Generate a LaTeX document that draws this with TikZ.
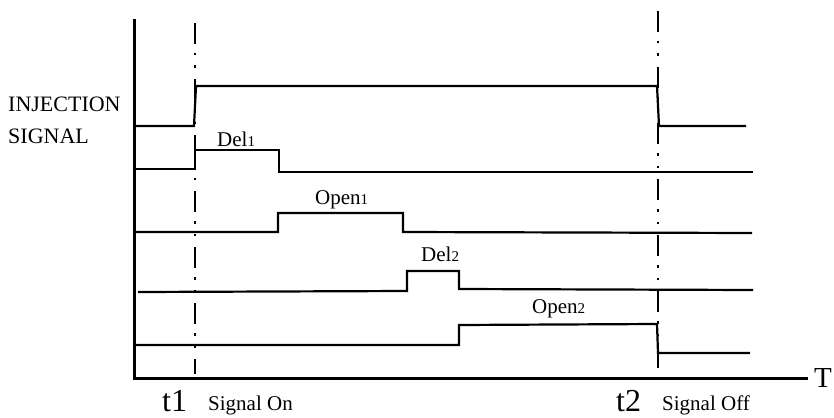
\documentclass[tikz,border=0pt]{standalone}
\usepackage{fontspec}
\setmainfont{Liberation Serif}
\tikzset{
  sigline/.style={line width=2.2pt},
  axisline/.style={line width=3pt},
  tline/.style={line width=2pt,dash pattern=on 21pt off 9pt on 2.5pt off 10pt on 2.5pt off 11pt},
  lbl/.style={font=\fontsize{21}{24}\selectfont,inner sep=0pt,anchor=base west},
  biglbl/.style={font=\fontsize{32}{34}\selectfont,inner sep=0pt,anchor=base west},
}
\newcommand{\idx}[1]{{\fontsize{15}{15}\selectfont #1}}
\begin{document}
\begin{tikzpicture}[x=1pt,y=-1pt]
\useasboundingbox (0,0) rectangle (834,417);
% time axis
\coordinate (O) at (134,378);
\coordinate (top) at (134,19);
\node[font=\fontsize{29}{30}\selectfont,inner sep=0pt,anchor=west] (T) at (814,378) {T};
\draw[axisline] (top) -- (O) -- ([xshift=-6pt]T.west);
% t1 and t2
\coordinate (t1top) at (195,23);
\coordinate (t1bot) at (195,374);
\coordinate (t2top) at (658,11);
\coordinate (t2bot) at (658,374);
\draw[tline] (t1top) -- (t1bot);
\draw[tline] (t2top) -- (t2bot);
% injection signal
\draw[sigline] (134,126) -- (194,126) -- (196,86) -- (657,86) -- (659,126) -- (746,126);
% Del1
\draw[sigline] (134,169) -- (195,169) -- (195,150) -- (279,150) -- (279,172) -- (753,172);
% Open1
\draw[sigline] (134,232) -- (278,232) -- (278,213) -- (403,213) -- (403,232) -- (752,233);
% Del2
\draw[sigline] (138,292) -- (407,291) -- (407,271) -- (459,271) -- (459,289) -- (753,290);
% Open2
\draw[sigline] (134,345) -- (459,345) -- (459,325) -- (657,324) -- (658,353) -- (750,353);
% labels
\node[lbl,font=\fontsize{22}{24}\selectfont] (inj) at (8,111) {INJECTION};
\node[lbl,font=\fontsize{22}{24}\selectfont] (injsig) at (8,143) {SIGNAL};
\node[lbl] (del1) at (217,146) {Del\idx{1}};
\node[lbl] (open1) at (315,204) {Open\idx{1}};
\node[lbl] (del2) at (421,261) {Del\idx{2}};
\node[lbl] (open2) at (532,313) {Open\idx{2}};
\node[biglbl] (t1) at (162,411) {t1};
\node[lbl] (on) at (208,410) {Signal On};
\node[biglbl] (t2) at (616,411) {t2};
\node[lbl] (off) at (662,410) {Signal Off};
\end{tikzpicture}
\end{document}
